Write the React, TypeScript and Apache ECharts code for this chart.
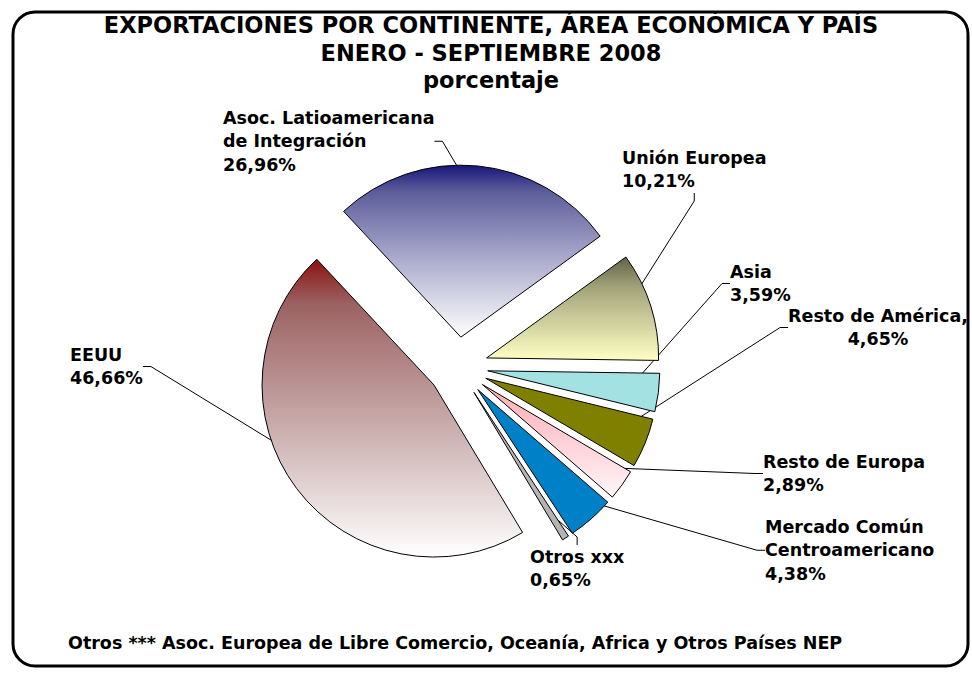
import { useEffect, useRef } from 'react';
import * as echarts from 'echarts';

const categories = [
  'Asoc. Latioamericana\nde Integración',
  'Unión Europea',
  'Asia',
  'Resto de América,',
  'Resto de Europa',
  'Mercado Común\nCentroamericano',
  'Otros xxx',
  'EEUU',
];
const values = [26.96, 10.21, 3.59, 4.65, 2.89, 4.38, 0.65, 46.66];
const titleLines = [
  'EXPORTACIONES POR CONTINENTE, ÁREA ECONÓMICA Y PAÍS',
  'ENERO - SEPTIEMBRE 2008',
  'porcentaje',
];
const footnote = 'Otros *** Asoc. Europea de Libre Comercio, Oceanía, Africa y Otros Países NEP';

const grad = (stops: [number, string][]) => ({
  type: 'linear',
  x: 0,
  y: 0,
  x2: 0,
  y2: 1,
  colorStops: stops.map(([offset, color]) => ({ offset, color })),
});

const sliceColors: any[] = [
  grad([[0, '#16167a'], [0.15, '#5c5c9a'], [0.55, '#acacce'], [1, '#ffffff']]),
  grad([[0, '#626248'], [0.3, '#a4a47c'], [1, '#ffffc4']]),
  '#a2e2e2',
  '#808000',
  grad([[0, '#ffaab4'], [1, '#fff6f8']]),
  '#0080c6',
  '#b4b4b4',
  grad([[0, '#8a1212'], [0.15, '#9c6262'], [0.55, '#c8aaaa'], [1, '#ffffff']]),
];

const labelPos = [
  { x: 223, y: 106, align: 'left' },
  { x: 622, y: 146, align: 'left' },
  { x: 730, y: 260, align: 'left' },
  { x: 878, y: 304, align: 'center' },
  { x: 763, y: 450, align: 'left' },
  { x: 765, y: 515, align: 'left' },
  { x: 530, y: 545, align: 'left' },
  { x: 70, y: 343, align: 'left' },
];

const PIE_CENTER = [458, 367];
const PIE_RADIUS = 172;
const START_ANGLE = 133;

export default function App() {
  const ref = useRef<HTMLDivElement>(null);
  useEffect(() => {
    document.body.style.margin = '0';
    if (!ref.current) return;
    const chart = echarts.init(ref.current, undefined, { renderer: 'svg' });
    const titleFont = 'bold 22.5px "DejaVu Sans", sans-serif';
    chart.setOption({
      animation: false,
      backgroundColor: '#ffffff',
      graphic: [
        {
          type: 'rect',
          shape: { x: 13, y: 12, width: 955, height: 654, r: 22 },
          style: { fill: 'none', stroke: '#000', lineWidth: 3 },
          z: 100,
        },
        ...titleLines.map((t, i) => ({
          type: 'text',
          x: 491,
          y: 25 + i * 27.5,
          style: {
            text: t,
            font: titleFont,
            fill: '#000',
            textAlign: 'center',
            textVerticalAlign: 'middle',
          },
        })),
        {
          type: 'text',
          x: 68,
          y: 643,
          style: {
            text: footnote,
            font: 'bold 17.5px "DejaVu Sans", sans-serif',
            fill: '#000',
            textAlign: 'left',
            textVerticalAlign: 'middle',
          },
        },
      ],
      series: [
        {
          type: 'pie',
          z: 3,
          center: PIE_CENTER,
          radius: PIE_RADIUS,
          startAngle: START_ANGLE,
          clockwise: true,
          selectedMode: 'multiple',
          selectedOffset: 30,
          avoidLabelOverlap: false,
          emphasis: { disabled: true },
          itemStyle: { borderColor: '#000', borderWidth: 1 },
          label: { show: false },
          labelLine: { show: false },
          data: values.map((v, i) => ({
            name: categories[i],
            value: v,
            selected: true,
            itemStyle: { color: sliceColors[i] },
          })),
        },
        {
          type: 'pie',
          z: 1,
          silent: true,
          center: PIE_CENTER,
          radius: PIE_RADIUS,
          startAngle: START_ANGLE,
          clockwise: true,
          avoidLabelOverlap: false,
          emphasis: { disabled: true },
          itemStyle: { color: 'rgba(0,0,0,0)', borderWidth: 0 },
          label: {
            show: true,
            position: 'outside',
            formatter: (p: any) => `${p.name}\n${Number(p.value).toFixed(2).replace('.', ',')}%`,
            fontFamily: '"DejaVu Sans", sans-serif',
            fontWeight: 'bold',
            fontSize: 17.5,
            lineHeight: 23.5,
            color: '#000',
          },
          labelLine: {
            show: true,
            length: 8,
            length2: 8,
            lineStyle: { color: '#000', width: 1 },
          },
          labelLayout: (p: any) => {
            const lp = labelPos[p.dataIndex];
            return { x: lp.x, y: lp.y, align: lp.align, verticalAlign: 'top' };
          },
          data: values.map((v, i) => ({ name: categories[i], value: v })),
        },
      ],
    });
    return () => chart.dispose();
  }, []);
  return <div ref={ref} style={{ width: 972, height: 675 }} />;
}
